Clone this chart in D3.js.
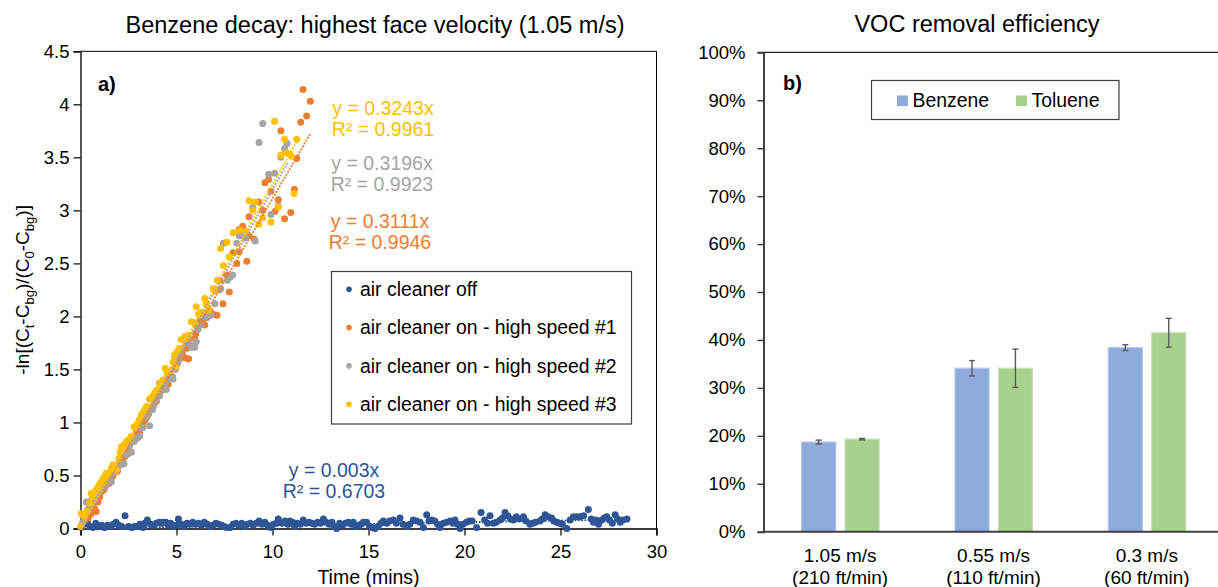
<!DOCTYPE html>
<html>
<head>
<meta charset="utf-8">
<script src="https://cdn.jsdelivr.net/npm/d3@7"></script>
<style>
  html, body { margin: 0; padding: 0; background: #fff; overflow: hidden; }
  svg { display: block; font-family: "Liberation Sans", Arial, sans-serif; }
</style>
</head>
<body>
<svg id="chart" width="1218" height="587"></svg>
<script>
// ---------- Panel a): benzene decay data, [time (min), -ln((Ct-Cbg)/(C0-Cbg))] ----------
const seriesNames = ["air cleaner off", "air cleaner on - high speed #1", "air cleaner on - high speed #2", "air cleaner on - high speed #3"];
const seriesColors = ["#2F5597", "#ED7D31", "#A5A5A5", "#FFC000"];
const fitSlopes = [0.003, 0.3111, 0.3196, 0.3243];
const fitR2 = ["0.6703", "0.9946", "0.9923", "0.9961"];

const airCleanerOff = [
  [0.05,0.01],[0.20,0.04],[0.35,0.06],[0.50,0.02],[0.65,0.01],[0.80,0.05],[0.95,0.02],[1.10,0.03],[1.25,0.01],[1.40,0.03],
  [1.55,0.02],[1.70,0.04],[1.85,0.06],[2.00,0.03],[2.15,0.02],[2.32,0.12],[2.50,0.02],[2.67,0.01],[2.80,0.02],[2.95,0.02],
  [3.10,0.04],[3.25,0.01],[3.35,0.05],[3.48,0.08],[3.65,0.04],[3.80,0.03],[3.95,0.05],[4.10,0.06],[4.20,0.05],[4.31,0.06],
  [4.45,0.06],[4.58,0.03],[4.70,0.05],[4.85,0.02],[5.00,0.03],[5.10,0.09],[5.25,0.04],[5.40,0.02],[5.55,0.05],[5.70,0.04],
  [5.85,0.06],[6.00,0.04],[6.15,0.05],[6.30,0.03],[6.45,0.06],[6.60,0.04],[6.75,0.02],[6.90,0.03],[7.05,0.05],[7.20,0.04],
  [7.35,0.03],[7.48,0.02],[7.60,0.01],[7.80,0.01],[7.95,0.04],[8.10,0.05],[8.25,0.03],[8.40,0.05],[8.55,0.02],[8.70,0.04],
  [8.85,0.05],[9.00,0.03],[9.15,0.05],[9.30,0.07],[9.45,0.04],[9.60,0.06],[9.75,0.03],[9.90,0.01],[10.05,0.04],[10.20,0.05],
  [10.30,0.09],[10.50,0.05],[10.65,0.07],[10.80,0.04],[10.91,0.07],[11.05,0.06],[11.15,0.02],[11.30,0.05],[11.45,0.04],[11.60,0.08],
  [11.75,0.05],[11.90,0.06],[12.05,0.05],[12.20,0.04],[12.35,0.06],[12.50,0.05],[12.65,0.09],[12.80,0.06],[12.95,0.04],[13.10,0.06],
  [13.20,0.02],[13.34,0.00],[13.50,0.05],[13.65,0.03],[13.80,0.05],[13.95,0.06],[14.10,0.04],[14.21,0.06],[14.35,0.02],[14.50,0.03],
  [14.62,0.04],[14.73,0.06],[14.90,0.06],[15.05,0.02],[15.20,0.01],[15.34,0.00],[15.50,0.02],[15.65,0.05],[15.77,0.07],[15.95,0.05],
  [16.10,0.07],[16.29,0.08],[16.45,0.05],[16.64,0.10],[16.80,0.04],[16.99,0.02],[17.15,0.04],[17.33,0.08],[17.50,0.07],[17.68,0.06],
  [17.86,0.01],[18.03,0.13],[18.15,0.07],[18.29,0.08],[18.45,0.07],[18.60,0.04],[18.72,0.01],[18.90,0.05],[19.07,0.06],[19.25,0.07],
  [19.40,0.05],[19.50,0.08],[19.65,0.04],[19.77,0.00],[19.92,0.04],[20.10,0.06],[20.25,0.07],[20.40,0.07],[20.63,0.01],[20.86,0.15],
  [21.05,0.08],[21.20,0.05],[21.33,0.12],[21.50,0.05],[21.65,0.06],[21.85,0.08],[21.98,0.10],[22.11,0.15],[22.25,0.12],[22.40,0.09],
  [22.54,0.08],[22.70,0.11],[22.85,0.09],[23.07,0.11],[23.20,0.07],[23.41,0.04],[23.55,0.05],[23.70,0.06],[23.93,0.07],[24.05,0.09],
  [24.20,0.13],[24.35,0.11],[24.54,0.10],[24.65,0.07],[24.80,0.06],[24.95,0.05],[25.10,0.04],[25.33,0.00],[25.50,0.08],[25.67,0.11],
  [25.85,0.11],[26.02,0.11],[26.20,0.12],[26.45,0.18],[26.60,0.09],[26.72,0.06],[26.85,0.08],[26.98,0.04],[27.15,0.08],[27.28,0.10],
  [27.41,0.11],[27.55,0.08],[27.70,0.05],[27.85,0.13],[27.98,0.09],[28.11,0.06],[28.25,0.08],[28.46,0.09]
];

const highSpeed1 = [
  [0.05,0.02],[0.22,0.08],[0.30,0.12],[0.40,0.10],[0.55,0.14],[0.62,0.22],[0.72,0.19],[0.82,0.16],[0.91,0.25],[1.00,0.30],
  [1.09,0.35],[1.18,0.36],[1.25,0.38],[1.40,0.42],[1.52,0.43],[1.60,0.47],[1.70,0.50],[1.80,0.55],[1.92,0.54],[2.05,0.60],
  [2.13,0.65],[2.20,0.66],[2.30,0.68],[2.44,0.72],[2.56,0.80],[2.65,0.82],[2.75,0.83],[2.91,0.90],[3.00,0.93],[3.08,0.90],
  [3.17,0.97],[3.25,1.00],[3.35,1.02],[3.45,1.05],[3.55,1.08],[3.65,1.12],[3.78,1.15],[3.85,1.18],[3.95,1.20],[4.05,1.27],
  [4.12,1.37],[4.20,1.30],[4.30,1.35],[4.45,1.40],[4.56,1.36],[4.65,1.44],[4.79,1.43],[4.95,1.52],[5.05,1.56],[5.17,1.61],
  [5.30,1.66],[5.43,1.61],[5.55,1.70],[5.63,1.60],[5.80,1.72],[5.95,1.79],[6.00,1.84],[6.10,1.90],[6.21,1.96],[6.35,1.95],
  [6.47,1.92],[6.59,1.99],[6.75,2.05],[6.90,2.02],[7.11,2.01],[7.27,2.34],[7.42,2.12],[7.61,2.39],[7.75,2.23],[7.94,2.60],
  [8.14,2.50],[8.26,2.61],[8.27,2.82],[8.45,2.85],[8.66,2.52],[8.76,2.76],[8.78,2.94],[9.04,2.73],[9.28,3.08],[9.49,3.00],
  [9.61,3.26],[9.80,3.29],[9.92,3.18],[10.13,2.99],[10.30,3.10],[10.44,3.75],[10.63,2.92],[10.95,2.98],[11.14,3.20],[11.26,3.49],
  [11.47,3.83],[11.59,4.14],[11.78,3.89],[11.97,4.03]
];

const highSpeed2 = [
  [0.05,0.03],[0.12,0.06],[0.20,0.10],[0.30,0.25],[0.38,0.18],[0.45,0.22],[0.60,0.28],[0.70,0.26],[0.80,0.30],[0.95,0.34],
  [1.02,0.35],[1.10,0.38],[1.20,0.40],[1.30,0.40],[1.45,0.45],[1.52,0.48],[1.61,0.44],[1.70,0.52],[1.78,0.54],[1.95,0.58],
  [2.02,0.62],[2.10,0.60],[2.27,0.61],[2.36,0.70],[2.45,0.70],[2.55,0.78],[2.65,0.72],[2.72,0.84],[2.80,0.82],[2.96,0.85],
  [3.08,0.87],[3.16,0.95],[3.25,0.95],[3.40,1.05],[3.50,1.08],[3.60,0.97],[3.75,1.12],[3.85,1.18],[3.95,1.23],[4.05,1.28],
  [4.12,1.25],[4.30,1.31],[4.40,1.38],[4.47,1.31],[4.58,1.42],[4.65,1.43],[4.82,1.41],[4.91,1.63],[4.94,1.50],[5.10,1.58],
  [5.20,1.64],[5.30,1.70],[5.50,1.75],[5.65,1.78],[5.77,1.71],[5.95,1.71],[6.03,1.76],[6.12,1.88],[6.25,1.92],[6.50,2.00],
  [6.65,2.04],[6.80,2.01],[7.00,2.12],[7.23,2.25],[7.30,2.26],[7.44,2.69],[7.65,2.34],[7.79,2.37],[7.93,2.39],[8.14,2.69],
  [8.27,2.76],[8.45,2.80],[8.60,2.74],[8.97,3.03],[9.10,2.71],[9.30,3.64],[9.49,3.82],[9.80,3.34],[9.92,2.96],[10.11,3.35],
  [10.30,3.04],[10.43,3.50],[10.63,3.58],[10.76,3.63]
];

const highSpeed3 = [
  [0.00,0.02],[0.04,0.14],[0.15,0.12],[0.22,0.14],[0.35,0.16],[0.48,0.24],[0.56,0.33],[0.62,0.30],[0.70,0.33],[0.80,0.36],
  [0.91,0.39],[1.00,0.42],[1.09,0.44],[1.18,0.47],[1.26,0.49],[1.35,0.52],[1.45,0.52],[1.61,0.57],[1.70,0.60],[1.78,0.58],
  [1.87,0.55],[2.00,0.66],[2.06,0.72],[2.13,0.77],[2.25,0.78],[2.32,0.80],[2.39,0.82],[2.52,0.84],[2.65,0.87],[2.79,0.96],
  [2.85,0.95],[2.95,0.98],[3.05,1.02],[3.17,1.07],[3.25,1.09],[3.34,1.12],[3.45,1.15],[3.60,1.22],[3.72,1.24],[3.86,1.28],
  [3.95,1.30],[4.04,1.31],[4.15,1.37],[4.30,1.40],[4.42,1.51],[4.50,1.47],[4.60,1.48],[4.82,1.57],[4.91,1.64],[4.94,1.53],
  [5.08,1.68],[5.15,1.70],[5.25,1.78],[5.43,1.81],[5.52,1.80],[5.60,1.82],[5.77,1.95],[5.95,1.94],[6.03,2.09],[6.15,2.02],
  [6.29,2.04],[6.47,2.17],[6.55,2.12],[6.68,2.06],[6.92,2.26],[6.99,2.24],[7.13,2.34],[7.30,2.64],[7.44,2.48],[7.63,2.70],
  [7.75,2.56],[7.96,2.79],[8.31,2.81],[8.60,2.80],[8.78,3.09],[8.97,3.00],[9.10,3.08],[9.28,2.87],[9.49,2.93],[9.92,2.89],
  [10.11,3.84],[10.30,3.03],[10.43,3.52],[10.63,3.67],[10.74,3.54],[10.91,3.53],[10.98,3.51],[11.12,3.16],[11.26,3.67]
];

const decaySeries = [airCleanerOff, highSpeed1, highSpeed2, highSpeed3];
const decayXTicks = [0, 5, 10, 15, 20, 25, 30];
const decayYTicks = [0, 0.5, 1, 1.5, 2, 2.5, 3, 3.5, 4, 4.5];

// ---------- Panel b): VOC removal efficiency (%) ----------
const velocityLines1 = ["1.05 m/s", "0.55 m/s", "0.3 m/s"];
const velocityLines2 = ["(210 ft/min)", "(110 ft/min)", "(60 ft/min)"];
const compounds = ["Benzene", "Toluene"];
const compoundColors = ["#8FAADC", "#A9D18E"];
const benzeneEff = [18.7, 34.1, 38.4];
const benzeneErr = [0.4, 1.6, 0.6];
const tolueneEff = [19.3, 34.1, 41.5];
const tolueneErr = [0.15, 4.0, 3.0];
const effTicks = [0, 10, 20, 30, 40, 50, 60, 70, 80, 90, 100];

// ---------- drawing ----------
const svg = d3.select("#chart");
const FONT = '"Liberation Sans", Arial, sans-serif';

// ===== Panel a =====
const xT = d3.scaleLinear().domain([0, 30]).range([80.5, 656.5]);
const yV = d3.scaleLinear().domain([0, 4.5]).range([528.5, 51.3]);

const pa = svg.append("g");

// plot frame (top and right edges)
pa.append("path")
  .attr("d", `M${xT(0)},${yV(4.5)}H${xT(30)}V${yV(0)}`)
  .attr("fill", "none").attr("stroke", "#000").attr("stroke-width", 1);

const yAxisA = pa.append("g")
  .attr("transform", `translate(${xT(0)},0)`)
  .call(d3.axisLeft(yV).tickValues(decayYTicks).tickSize(7).tickPadding(4).tickFormat(d3.format("~g")));
const xAxisA = pa.append("g")
  .attr("transform", `translate(0,${yV(0)})`)
  .call(d3.axisBottom(xT).tickValues(decayXTicks).tickSize(7).tickPadding(9).tickFormat(d3.format("d")));
[yAxisA, xAxisA].forEach(ax => {
  ax.select(".domain").attr("stroke", "#000").attr("stroke-width", 1.3);
  ax.selectAll(".tick line").attr("stroke", "#000").attr("stroke-width", 1.2);
  ax.selectAll(".tick text").attr("fill", "#000").style("font-size", "18.5px").style("font-family", FONT);
});
xAxisA.selectAll(".tick text").attr("dy", "0.71em");

// scatter points
decaySeries.forEach((data, i) => {
  pa.append("g").selectAll("circle").data(data).join("circle")
    .attr("cx", d => xT(d[0]))
    .attr("cy", d => yV(d[1]))
    .attr("r", 3.5)
    .attr("fill", seriesColors[i]);
});

// linear trendlines through the origin
const trend = d3.line().x(d => xT(d[0])).y(d => yV(d[1]));
decaySeries.forEach((data, i) => {
  const tMax = d3.max(data, d => d[0]);
  pa.append("path")
    .attr("d", trend([[0, 0], [tMax, fitSlopes[i] * tMax]]))
    .attr("fill", "none")
    .attr("stroke", seriesColors[i])
    .attr("stroke-width", 2)
    .attr("stroke-linecap", "round")
    .attr("stroke-dasharray", "0.1 3.2");
});

// equation labels
const eqPos = [[334, 477], [380, 228], [382, 170], [383, 115]];
decaySeries.forEach((data, i) => {
  const t = pa.append("text")
    .attr("text-anchor", "middle")
    .attr("fill", seriesColors[i])
    .style("font-size", "19.5px");
  t.append("tspan").attr("x", eqPos[i][0]).attr("y", eqPos[i][1]).text(`y = ${fitSlopes[i]}x`);
  t.append("tspan").attr("x", eqPos[i][0]).attr("y", eqPos[i][1] + 20.5).text(`R² = ${fitR2[i]}`);
});

// panel letter
pa.append("text").attr("x", 98).attr("y", 91).attr("font-weight", "bold")
  .style("font-size", "20px").text("a)");

// title
pa.append("text").attr("x", 375).attr("y", 33).attr("text-anchor", "middle")
  .style("font-size", "23.5px").attr("fill", "#000")
  .text("Benzene decay: highest face velocity (1.05 m/s)");

// axis titles
pa.append("text").attr("x", xT(15)).attr("y", 584).attr("text-anchor", "middle")
  .style("font-size", "19.5px").text("Time (mins)");

const yl = pa.append("text")
  .attr("transform", `translate(29,${(yV(0) + yV(4.5)) / 2}) rotate(-90)`)
  .attr("text-anchor", "middle")
  .style("font-size", "19px");
const ylParts = [["-ln[(C", 0], ["t", 1], ["-C", 0], ["bg", 1], [")/(C", 0], ["0", 1], ["-C", 0], ["bg", 1], [")]", 0]];
let prevSub = 0;
ylParts.forEach(([s, sub]) => {
  const ts = yl.append("tspan").text(s);
  if (sub) ts.style("font-size", "13px");
  const dy = (sub - prevSub) * 5;
  if (dy) ts.attr("dy", dy);
  prevSub = sub;
});

// legend
const lgA = pa.append("g");
lgA.append("rect").attr("x", 331.5).attr("y", 271.5).attr("width", 300).attr("height", 152.5)
  .attr("fill", "#fff").attr("stroke", "#404040").attr("stroke-width", 1.2);
seriesNames.forEach((name, i) => {
  const cy = 289.3 + i * 38.3;
  lgA.append("circle").attr("cx", 349).attr("cy", cy).attr("r", 2.8).attr("fill", seriesColors[i]);
  lgA.append("text").attr("x", 360).attr("y", cy + 6.8).style("font-size", "19.4px").attr("fill", "#000").text(name);
});

// ===== Panel b =====
const pb = svg.append("g");
const yP = d3.scaleLinear().domain([0, 100]).range([531.7, 52.3]);
const xCat = d3.scaleBand().domain(velocityLines1).range([763.5, 1223.5]);
const bw = xCat.bandwidth();
const xSub = d3.scaleBand().domain(compounds).range([bw * 0.249, bw * 0.754]).paddingInner(0.215);

// top frame edge
pb.append("line").attr("x1", 763.5).attr("x2", 1230).attr("y1", yP(100)).attr("y2", yP(100))
  .attr("stroke", "#262626").attr("stroke-width", 1.3);

const yAxisB = pb.append("g").attr("transform", "translate(763.5,0)")
  .call(d3.axisLeft(yP).tickValues(effTicks).tickSize(6).tickPadding(12).tickFormat(d => d + "%"));
yAxisB.select(".domain").attr("stroke", "#404040").attr("stroke-width", 2);
yAxisB.selectAll(".tick line").attr("stroke", "#404040").attr("stroke-width", 1.5);
yAxisB.selectAll(".tick text").attr("fill", "#000").style("font-size", "18.5px").style("font-family", FONT);

const barData = [];
velocityLines1.forEach((cat, j) => {
  barData.push({ cat, comp: "Benzene", v: benzeneEff[j], e: benzeneErr[j], c: compoundColors[0], lc: "#B4C7E7" });
  barData.push({ cat, comp: "Toluene", v: tolueneEff[j], e: tolueneErr[j], c: compoundColors[1], lc: "#C5E0B4" });
});

pb.append("g").selectAll("rect").data(barData).join("rect")
  .attr("x", d => xCat(d.cat) + xSub(d.comp))
  .attr("y", d => yP(d.v))
  .attr("width", xSub.bandwidth())
  .attr("height", d => yP(0) - yP(d.v))
  .attr("fill", d => d.c)
  .attr("stroke", d => d.lc)
  .attr("stroke-width", 1.2);

// x axis baseline
pb.append("line").attr("x1", 763.5).attr("x2", 1230).attr("y1", yP(0)).attr("y2", yP(0))
  .attr("stroke", "#404040").attr("stroke-width", 2);

// error bars
const eb = pb.append("g").attr("stroke", "#595959").attr("stroke-width", 1.4);
barData.forEach(d => {
  const cx = xCat(d.cat) + xSub(d.comp) + xSub.bandwidth() / 2;
  const y1 = yP(d.v + d.e), y2 = yP(d.v - d.e);
  eb.append("line").attr("x1", cx).attr("x2", cx).attr("y1", y1).attr("y2", y2);
  eb.append("line").attr("x1", cx - 3).attr("x2", cx + 3).attr("y1", y1).attr("y2", y1);
  eb.append("line").attr("x1", cx - 3).attr("x2", cx + 3).attr("y1", y2).attr("y2", y2);
});

// category labels (two lines)
velocityLines1.forEach((l1, j) => {
  const cx = xCat(l1) + bw / 2;
  const t = pb.append("text").attr("text-anchor", "middle").style("font-size", "19px").attr("fill", "#000");
  t.append("tspan").attr("x", cx).attr("y", 562).text(l1);
  t.append("tspan").attr("x", cx).attr("y", 583.5).text(velocityLines2[j]);
});

// title and panel letter
pb.append("text").attr("x", 977).attr("y", 32).attr("text-anchor", "middle")
  .style("font-size", "23.5px").text("VOC removal efficiency");
pb.append("text").attr("x", 783).attr("y", 90).attr("font-weight", "bold")
  .style("font-size", "20px").text("b)");

// legend
const lgB = pb.append("g");
lgB.append("rect").attr("x", 871.5).attr("y", 80.5).attr("width", 247.5).attr("height", 39)
  .attr("fill", "#fff").attr("stroke", "#404040").attr("stroke-width", 1.2);
const lgBx = [897, 1016];
compounds.forEach((name, i) => {
  lgB.append("rect").attr("x", lgBx[i]).attr("y", 95.5).attr("width", 11).attr("height", 10.5).attr("fill", compoundColors[i]);
  lgB.append("text").attr("x", lgBx[i] + 15.5).attr("y", 107).style("font-size", "19.4px").text(name);
});
</script>
</body>
</html>
